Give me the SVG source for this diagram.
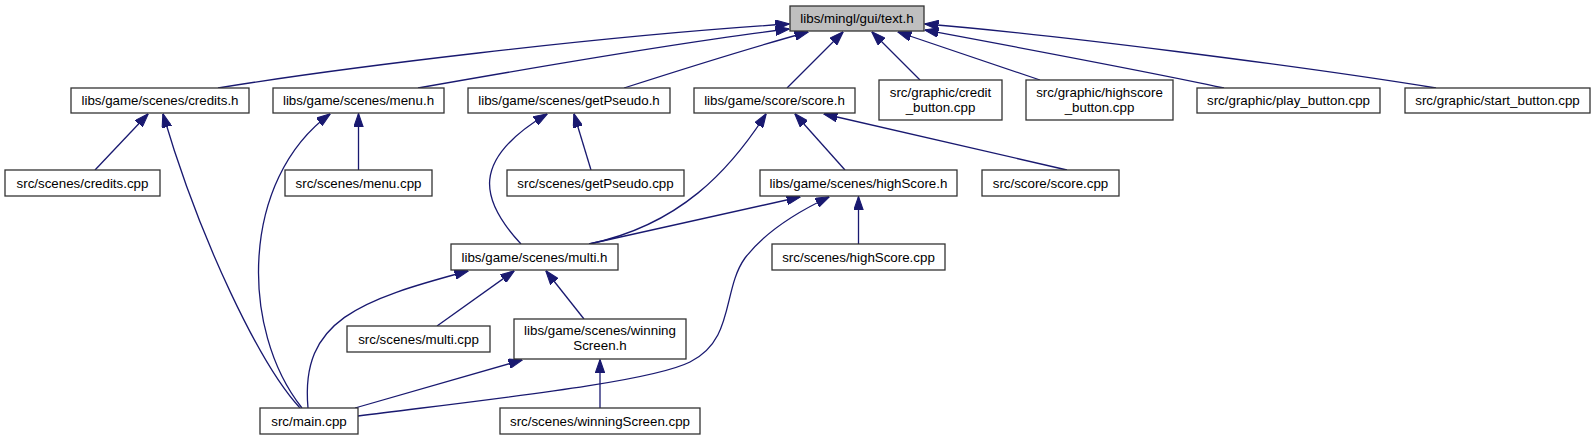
<svg xmlns="http://www.w3.org/2000/svg" width="1595" height="440" viewBox="0 0 1595 440">
<style>
.node rect{fill:#ffffff;stroke:#333333;stroke-width:1.3}
.node.root rect{fill:#bfbfbf}
.node text{font-family:"Liberation Sans",Arial,Helvetica,sans-serif;font-size:13.33px;text-anchor:middle;fill:#000000}
.edges path{fill:none;stroke:#191970;stroke-width:1.3;marker-end:url(#arr)}
</style>
<defs>
<marker id="arr" markerUnits="userSpaceOnUse" markerWidth="14" markerHeight="10" viewBox="0 0 13 9" refX="12.5" refY="4.5" orient="auto">
<path d="M0,0 L13,4.5 L0,9 z" fill="#191970" stroke="#191970" stroke-width="1"/>
</marker>
</defs>
<rect width="1595" height="440" fill="#ffffff"/>
<g id="edges" class="edges">
<path d="M218,88 C340,68 600,36 789,24"/>
<path d="M418,88 C520,70 680,42 789,29"/>
<path d="M624,88 C680,70 750,48 808,32"/>
<path d="M787,88 L843,32"/>
<path d="M920,80 L872,32"/>
<path d="M1040,80 L898,32"/>
<path d="M1224,88 C1140,70 1000,44 925,30"/>
<path d="M1436,88 C1300,66 1050,34 925,24"/>
<path d="M95,170 L148,114"/>
<path d="M300,408 C260,365 200,240 163,114"/>
<path d="M302,408 C240,330 240,180 330,114"/>
<path d="M358.5,170 L358.5,114"/>
<path d="M521,244 C480,200 470,160 547,114"/>
<path d="M591,170 L574,114"/>
<path d="M589,244 C680,225 730,170 766,114"/>
<path d="M589,244 L800,197"/>
<path d="M358,416 C500,398 650,382 690,362 C735,340 722,290 745,258 C765,232 795,213 829,197"/>
<path d="M1067,170 L824,114"/>
<path d="M845,170 L795,114"/>
<path d="M858.5,244 L858.5,197"/>
<path d="M437,326 L514,271"/>
<path d="M584,319 L546,271"/>
<path d="M308,408 C300,320 360,300 468,271"/>
<path d="M355,408 L522,360"/>
<path d="M600,408 L600,360"/>
</g>
<g id="n_text" class="node root"><rect x="790" y="6" width="134" height="25"/><text x="857" y="23">libs/mingl/gui/text.h</text></g>
<g id="n_credits_h" class="node"><rect x="71" y="88" width="178" height="25"/><text x="160" y="105">libs/game/scenes/credits.h</text></g>
<g id="n_menu_h" class="node"><rect x="273" y="88" width="171" height="25"/><text x="358.5" y="105">libs/game/scenes/menu.h</text></g>
<g id="n_getPseudo_h" class="node"><rect x="468" y="88" width="202" height="25"/><text x="569" y="105">libs/game/scenes/getPseudo.h</text></g>
<g id="n_score_h" class="node"><rect x="694" y="88" width="161" height="25"/><text x="774.5" y="105">libs/game/score/score.h</text></g>
<g id="n_credit_button" class="node"><rect x="879" y="80" width="123" height="40"/><text x="940.5" y="97">src/graphic/credit</text><text x="940.5" y="112">_button.cpp</text></g>
<g id="n_highscore_button" class="node"><rect x="1026" y="80" width="147" height="40"/><text x="1099.5" y="97">src/graphic/highscore</text><text x="1099.5" y="112">_button.cpp</text></g>
<g id="n_play_button" class="node"><rect x="1197" y="88" width="183" height="25"/><text x="1288.5" y="105">src/graphic/play_button.cpp</text></g>
<g id="n_start_button" class="node"><rect x="1405" y="88" width="185" height="25"/><text x="1497.5" y="105">src/graphic/start_button.cpp</text></g>
<g id="n_credits_cpp" class="node"><rect x="5" y="170" width="155" height="26"/><text x="82.5" y="187.5">src/scenes/credits.cpp</text></g>
<g id="n_menu_cpp" class="node"><rect x="285" y="170" width="147" height="26"/><text x="358.5" y="187.5">src/scenes/menu.cpp</text></g>
<g id="n_getPseudo_cpp" class="node"><rect x="507" y="170" width="177" height="26"/><text x="595.5" y="187.5">src/scenes/getPseudo.cpp</text></g>
<g id="n_highScore_h" class="node"><rect x="760" y="170" width="197" height="26"/><text x="858.5" y="187.5">libs/game/scenes/highScore.h</text></g>
<g id="n_score_cpp" class="node"><rect x="982" y="170" width="137" height="26"/><text x="1050.5" y="187.5">src/score/score.cpp</text></g>
<g id="n_multi_h" class="node"><rect x="451" y="244" width="167" height="26"/><text x="534.5" y="261.5">libs/game/scenes/multi.h</text></g>
<g id="n_highScore_cpp" class="node"><rect x="772" y="244" width="173" height="26"/><text x="858.5" y="261.5">src/scenes/highScore.cpp</text></g>
<g id="n_multi_cpp" class="node"><rect x="347" y="326" width="143" height="26"/><text x="418.5" y="343.5">src/scenes/multi.cpp</text></g>
<g id="n_winning_h" class="node"><rect x="514" y="319" width="172" height="40"/><text x="600" y="335">libs/game/scenes/winning</text><text x="600" y="350">Screen.h</text></g>
<g id="n_main" class="node"><rect x="260" y="408" width="98" height="26"/><text x="309" y="425.5">src/main.cpp</text></g>
<g id="n_winning_cpp" class="node"><rect x="500" y="408" width="200" height="26"/><text x="600" y="425.5">src/scenes/winningScreen.cpp</text></g>
</svg>
